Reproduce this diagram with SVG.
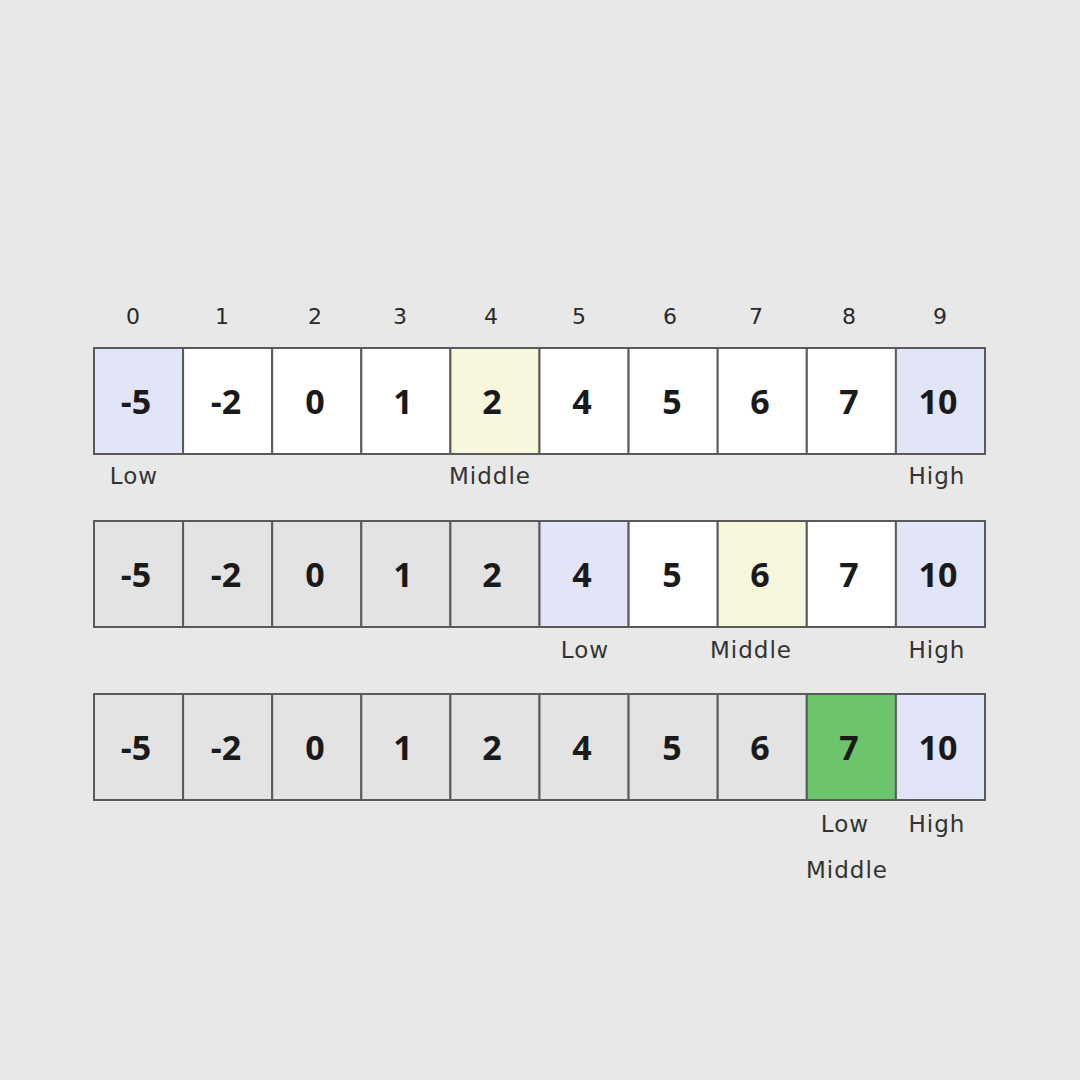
<svg xmlns="http://www.w3.org/2000/svg" width="1080" height="1080" viewBox="0 0 1080 1080">
<style>
.cell{stroke:#5a5a5a;stroke-width:2}
.w{fill:#ffffff}.g{fill:#e3e3e3}.l{fill:#e2e4f7}.y{fill:#f6f7dc}.gr{fill:#6cc56c}
.num{font-family:"Open Sans","Liberation Sans",sans-serif;font-weight:700;font-size:34px;fill:#1a1a1a;text-anchor:middle}
.idx{font-family:"DejaVu Sans","Liberation Sans",sans-serif;font-size:22px;fill:#2a2a2a;text-anchor:middle}
.lab{font-family:"DejaVu Sans","Liberation Sans",sans-serif;font-size:23px;letter-spacing:1px;fill:#333;text-anchor:middle}
</style>
<rect width="1080" height="1080" fill="#e8e8e8"/>
<g id="indices">
<text class="idx" x="133" y="324">0</text><text class="idx" x="222" y="324">1</text><text class="idx" x="315" y="324">2</text><text class="idx" x="400" y="324">3</text><text class="idx" x="491" y="324">4</text><text class="idx" x="579" y="324">5</text><text class="idx" x="670" y="324">6</text><text class="idx" x="756" y="324">7</text><text class="idx" x="849" y="324">8</text><text class="idx" x="940" y="324">9</text>
</g>
<g id="row1">
<rect class="cell l" x="94" y="348" width="89.1" height="106"/>
<rect class="cell w" x="183.1" y="348" width="89.1" height="106"/>
<rect class="cell w" x="272.2" y="348" width="89.1" height="106"/>
<rect class="cell w" x="361.3" y="348" width="89.1" height="106"/>
<rect class="cell y" x="450.4" y="348" width="89.1" height="106"/>
<rect class="cell w" x="539.5" y="348" width="89.1" height="106"/>
<rect class="cell w" x="628.6" y="348" width="89.1" height="106"/>
<rect class="cell w" x="717.7" y="348" width="89.1" height="106"/>
<rect class="cell w" x="806.8" y="348" width="89.1" height="106"/>
<rect class="cell l" x="895.9" y="348" width="89.1" height="106"/>
<text class="num" x="136" y="414">-5</text><text class="num" x="226" y="414">-2</text><text class="num" x="315" y="414">0</text><text class="num" x="403" y="414">1</text><text class="num" x="492" y="414">2</text><text class="num" x="582" y="414">4</text><text class="num" x="672" y="414">5</text><text class="num" x="760" y="414">6</text><text class="num" x="849" y="414">7</text><text class="num" x="938" y="414">10</text>
<text class="lab" x="134" y="484">Low</text><text class="lab" x="490" y="484">Middle</text><text class="lab" x="937" y="484">High</text>
</g>
<g id="row2">
<rect class="cell g" x="94" y="521" width="89.1" height="106"/>
<rect class="cell g" x="183.1" y="521" width="89.1" height="106"/>
<rect class="cell g" x="272.2" y="521" width="89.1" height="106"/>
<rect class="cell g" x="361.3" y="521" width="89.1" height="106"/>
<rect class="cell g" x="450.4" y="521" width="89.1" height="106"/>
<rect class="cell l" x="539.5" y="521" width="89.1" height="106"/>
<rect class="cell w" x="628.6" y="521" width="89.1" height="106"/>
<rect class="cell y" x="717.7" y="521" width="89.1" height="106"/>
<rect class="cell w" x="806.8" y="521" width="89.1" height="106"/>
<rect class="cell l" x="895.9" y="521" width="89.1" height="106"/>
<text class="num" x="136" y="587">-5</text><text class="num" x="226" y="587">-2</text><text class="num" x="315" y="587">0</text><text class="num" x="403" y="587">1</text><text class="num" x="492" y="587">2</text><text class="num" x="582" y="587">4</text><text class="num" x="672" y="587">5</text><text class="num" x="760" y="587">6</text><text class="num" x="849" y="587">7</text><text class="num" x="938" y="587">10</text>
<text class="lab" x="585" y="658">Low</text><text class="lab" x="751" y="658">Middle</text><text class="lab" x="937" y="658">High</text>
</g>
<g id="row3">
<rect class="cell g" x="94" y="694" width="89.1" height="106"/>
<rect class="cell g" x="183.1" y="694" width="89.1" height="106"/>
<rect class="cell g" x="272.2" y="694" width="89.1" height="106"/>
<rect class="cell g" x="361.3" y="694" width="89.1" height="106"/>
<rect class="cell g" x="450.4" y="694" width="89.1" height="106"/>
<rect class="cell g" x="539.5" y="694" width="89.1" height="106"/>
<rect class="cell g" x="628.6" y="694" width="89.1" height="106"/>
<rect class="cell g" x="717.7" y="694" width="89.1" height="106"/>
<rect class="cell gr" x="806.8" y="694" width="89.1" height="106"/>
<rect class="cell l" x="895.9" y="694" width="89.1" height="106"/>
<text class="num" x="136" y="760">-5</text><text class="num" x="226" y="760">-2</text><text class="num" x="315" y="760">0</text><text class="num" x="403" y="760">1</text><text class="num" x="492" y="760">2</text><text class="num" x="582" y="760">4</text><text class="num" x="672" y="760">5</text><text class="num" x="760" y="760">6</text><text class="num" x="849" y="760">7</text><text class="num" x="938" y="760">10</text>
<text class="lab" x="845" y="832">Low</text><text class="lab" x="937" y="832">High</text><text class="lab" x="847" y="878">Middle</text>
</g>
</svg>
